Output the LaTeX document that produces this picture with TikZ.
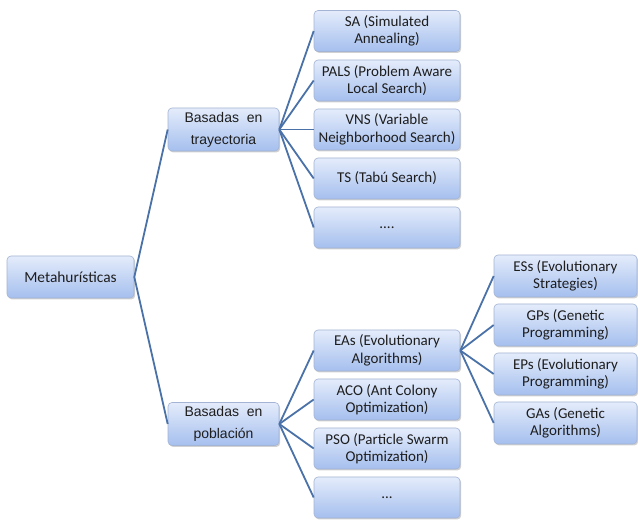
\documentclass[tikz,border=0pt]{standalone}
\usepackage{fontspec}
\setmainfont{Carlito}
\newfontfamily\arialf{Liberation Sans}
\usetikzlibrary{shadows}
\definecolor{boxtop}{HTML}{E4ECFB}
\definecolor{boxbot}{HTML}{A5BFEE}
\definecolor{boxline}{HTML}{A3B4D4}
\definecolor{conn}{HTML}{4A72A8}
\definecolor{txt}{HTML}{1E1E1E}
\begin{document}
\begin{tikzpicture}[x=1pt,y=-1pt,
  box/.style={rectangle, rounded corners=4pt, draw=boxline, line width=0.6pt,
    top color=boxtop, bottom color=boxbot, inner sep=0pt, align=center,
    text=txt, font=\fontsize{15}{17.5}\selectfont,
    drop shadow={shadow xshift=1.2pt, shadow yshift=-1.5pt, opacity=0.3, fill=black!60}},
  leafbox/.style={box, minimum width=146pt, minimum height=41pt},
  farbox/.style={box, minimum width=143pt, minimum height=42pt},
  midbox/.style={box, minimum width=111pt, minimum height=43pt, font=\arialf\fontsize{14}{22}\selectfont},
  link/.style={draw=conn, line width=1.8pt}]
\useasboundingbox (0,0) rectangle (638,521);
\node[box, minimum width=127pt, minimum height=42pt, font=\fontsize{15.4}{18}\selectfont] (meta) at (70.5,277) {Metahurísticas};
\node[midbox] (tray) at (223.5,129.5) {Basadas\; en\\trayectoria};
\node[midbox] (pob) at (223.5,424) {Basadas\; en\\población};
\node[leafbox] (sa) at (387,31) {SA (Simulated\\Annealing)};
\node[leafbox] (pals) at (387,80.5) {PALS (Problem Aware\\Local Search)};
\node[leafbox] (vns) at (387,129.5) {VNS (Variable\\Neighborhood Search)};
\node[leafbox] (ts) at (387,178.5) {TS (Tabú Search)};
\node[leafbox] (d1) at (387,227.5) {....};
\node[leafbox] (eas) at (387,350.5) {EAs (Evolutionary\\Algorithms)};
\node[leafbox] (aco) at (387,399.5) {ACO (Ant Colony\\Optimization)};
\node[leafbox] (pso) at (387,448.5) {PSO (Particle Swarm\\Optimization)};
\node[leafbox] (d2) at (387,497.5) {...};
\node[farbox] (ess) at (565.5,276) {ESs (Evolutionary\\Strategies)};
\node[farbox] (gps) at (565.5,325) {GPs (Genetic\\Programming)};
\node[farbox] (eps) at (565.5,374) {EPs (Evolutionary\\Programming)};
\node[farbox] (gas) at (565.5,423) {GAs (Genetic\\Algorithms)};
\foreach \c in {tray,pob} \draw[link] (meta.east) -- (\c.west);
\foreach \c in {sa,pals,vns,ts,d1} \draw[link] (tray.east) -- (\c.west);
\foreach \c in {eas,aco,pso,d2} \draw[link] (pob.east) -- (\c.west);
\foreach \c in {ess,gps,eps,gas} \draw[link] (eas.east) -- (\c.west);
\end{tikzpicture}
\end{document}
